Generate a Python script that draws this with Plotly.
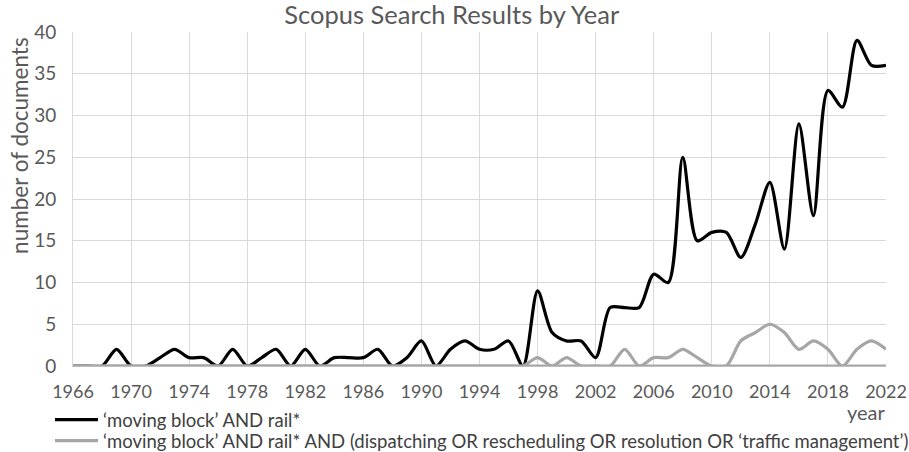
import plotly.graph_objects as go

years = list(range(1966, 2023))
moving_block_rail = [0, 0, 0, 2, 0, 0, 1, 2, 1, 1, 0, 2, 0, 1, 2, 0, 2, 0, 1, 1,
                     1, 2, 0, 1, 3, 0, 2, 3, 2, 2, 3, 0, 9, 4, 3, 3, 1, 7, 7, 7,
                     11, 10, 25, 15, 16, 16, 13, 17, 22, 14, 29, 18, 33, 31, 39, 36, 36]
moving_block_dispatch = [0, 0, 0, 0, 0, 0, 0, 0, 0, 0, 0, 0, 0, 0, 0, 0, 0, 0, 0, 0,
                         0, 0, 0, 0, 0, 0, 0, 0, 0, 0, 0, 0, 1, 0, 1, 0, 0, 0, 2, 0,
                         1, 1, 2, 1, 0, 0, 3, 4, 5, 4, 2, 3, 2, 0, 2, 3, 2]
x_ticks = list(range(1966, 2023, 4))
y_ticks = list(range(0, 41, 5))

name1 = "‘moving block’ AND rail*"
name2 = "‘moving block’ AND rail* AND (dispatching OR rescheduling OR resolution OR ‘traffic management’)"

font = "Lato, 'Open Sans', sans-serif"

fig = go.Figure()
fig.add_trace(go.Scatter(x=years, y=moving_block_rail, mode="lines", name=name1, legend="legend",
                         line=dict(color="#000000", width=3.2, shape="spline", smoothing=0.8)))
fig.add_trace(go.Scatter(x=years, y=moving_block_dispatch, mode="lines", name=name2, legend="legend2",
                         line=dict(color="#a6a6a6", width=3.2, shape="spline", smoothing=0.8)))

legend_style = dict(xanchor="left", yanchor="top", orientation="v",
                    font=dict(size=18.5, color="#404040"), bgcolor="rgba(0,0,0,0)",
                    itemwidth=43, tracegroupgap=0)

fig.update_layout(
    width=909, height=452,
    margin=dict(l=73, r=23, t=32, b=86, autoexpand=False),
    paper_bgcolor="white", plot_bgcolor="white",
    font=dict(family=font, color="#595959"),
    title=dict(text="Scopus Search Results by Year", x=0.497, xanchor="center",
               y=0.967, yanchor="middle", font=dict(size=25.5, color="#595959")),
    xaxis=dict(range=[1966, 2022], tickvals=x_ticks, ticktext=[str(t) for t in x_ticks],
               showgrid=True, gridcolor="#d9d9d9", gridwidth=1, automargin=False,
               showline=True, linecolor="#bfbfbf", linewidth=1, mirror=False,
               zeroline=False, ticks="", ticklabelstandoff=9,
               tickfont=dict(size=18, color="#595959")),
    yaxis=dict(range=[0, 40], tickvals=y_ticks, showgrid=True, gridcolor="#d9d9d9", gridwidth=1,
               showline=True, linecolor="#d9d9d9", linewidth=1, zeroline=False, ticks="",
               automargin=False, ticklabelstandoff=12,
               tickfont=dict(size=19, color="#595959")),
    legend=dict(x=-0.0283, y=-0.1048, **legend_style),
    legend2=dict(x=-0.0283, y=-0.1677, **legend_style),
    showlegend=True,
)
fig.add_shape(type="line", xref="paper", yref="y", x0=0, x1=1, y0=0, y1=0,
              line=dict(color="#a6a6a6", width=3))
fig.add_annotation(text="number of documents", xref="paper", yref="paper",
                   x=-0.0652, y=0.662, xanchor="center", yanchor="middle", textangle=-90,
                   showarrow=False, font=dict(size=22.5, color="#595959", family=font))
fig.add_annotation(text="year", xref="paper", yref="paper", x=1.002, y=-0.138,
                   xanchor="right", yanchor="middle", showarrow=False,
                   font=dict(size=20, color="#595959", family=font))

fig.write_html("out.html", config={"displayModeBar": False},
               post_script="document.body.style.margin='0';")
